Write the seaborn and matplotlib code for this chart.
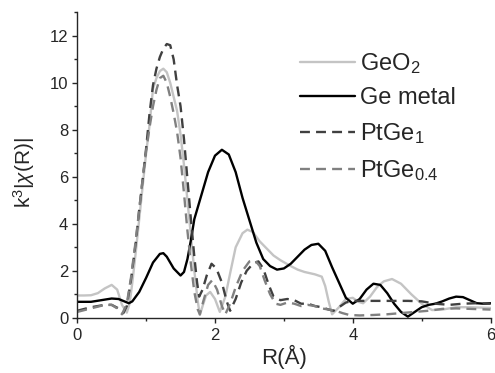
import matplotlib
matplotlib.use("Agg")
import matplotlib.pyplot as plt
from matplotlib.ticker import MultipleLocator
import seaborn as sns

# --- data (R in Angstrom, k3|chi(R)|) ---
r_geo2 = [0, 0.1, 0.2, 0.3, 0.4, 0.5, 0.58, 0.65, 0.72, 0.76, 0.8, 0.85, 0.9, 0.95, 1.0, 1.05,
          1.1, 1.15, 1.2, 1.25, 1.3, 1.35, 1.4, 1.45, 1.5, 1.55, 1.6, 1.65, 1.7, 1.75, 1.78,
          1.82, 1.87, 1.93, 2.0, 2.07, 2.15, 2.22, 2.3, 2.4, 2.47, 2.55, 2.65, 2.75, 2.85, 2.95,
          3.1, 3.2, 3.3, 3.45, 3.55, 3.6, 3.65, 3.7, 3.8, 3.9, 4.0, 4.08, 4.15, 4.25, 4.35,
          4.45, 4.57, 4.7, 4.85, 5.0, 5.15, 5.3, 5.5, 5.7, 6.0]
chi_geo2 = [0.95, 0.95, 0.96, 1.05, 1.25, 1.4, 1.2, 0.55, 0.22, 0.6, 1.5, 2.8, 4.2, 5.6, 7.0, 8.2,
            9.75, 10.2, 10.5, 10.6, 10.45, 10.0, 9.4, 8.8, 7.8, 6.5, 5.0, 3.5, 2.0, 0.7, 0.12,
            0.5, 0.95, 1.1, 0.8, 0.25, 0.9, 1.9, 3.0, 3.6, 3.75, 3.65, 3.25, 2.95, 2.65, 2.45,
            2.2, 2.05, 1.95, 1.85, 1.75, 1.35, 0.7, 0.15, 0.45, 0.8, 0.85, 0.68, 0.62, 0.9, 1.3,
            1.55, 1.65, 1.45, 1.0, 0.6, 0.33, 0.35, 0.45, 0.45, 0.42]

r_ge = [0, 0.2, 0.35, 0.5, 0.6, 0.7, 0.75, 0.8, 0.9, 1.0, 1.1, 1.2, 1.25, 1.3, 1.4, 1.5,
        1.55, 1.6, 1.65, 1.7, 1.8, 1.9, 2.0, 2.1, 2.2, 2.3, 2.4, 2.5, 2.6, 2.7, 2.8, 2.9, 3.0,
        3.1, 3.2, 3.3, 3.4, 3.5, 3.6, 3.7, 3.8, 3.9, 4.0, 4.1, 4.2, 4.3, 4.4, 4.5, 4.6, 4.7,
        4.8, 4.9, 5.0, 5.1, 5.2, 5.3, 5.4, 5.5, 5.6, 5.7, 5.8, 5.9, 6.0]
chi_ge = [0.68, 0.68, 0.75, 0.82, 0.8, 0.68, 0.62, 0.7, 1.1, 1.7, 2.35, 2.72, 2.75, 2.6, 2.1, 1.8,
          1.95, 2.5, 3.3, 4.2, 5.2, 6.2, 6.9, 7.15, 6.95, 6.2, 5.1, 4.15, 3.2, 2.5, 2.2, 2.05, 2.1,
          2.3, 2.6, 2.9, 3.1, 3.15, 2.85, 2.15, 1.5, 0.85, 0.6, 0.8, 1.2, 1.45, 1.4, 1.05, 0.6, 0.25,
          0.05, 0.25, 0.45, 0.55, 0.6, 0.7, 0.82, 0.9, 0.88, 0.75, 0.62, 0.6, 0.62]

r_ptge1 = [0, 0.2, 0.4, 0.5, 0.6, 0.67, 0.72, 0.78, 0.85, 0.9, 0.95, 1.0, 1.05, 1.1, 1.15, 1.2,
           1.25, 1.3, 1.35, 1.4, 1.45, 1.5, 1.55, 1.6, 1.65, 1.7, 1.74, 1.77, 1.82, 1.88, 1.95,
           2.02, 2.1, 2.17, 2.22, 2.3, 2.38, 2.46, 2.55, 2.63, 2.7, 2.78, 2.85, 2.95, 3.05, 3.15,
           3.25, 3.35, 3.45, 3.55, 3.65, 3.72, 3.8, 3.9, 4.0, 4.2, 4.5, 4.8, 5.0, 5.2, 5.4, 5.6,
           5.8, 6.0]
chi_ptge1 = [0.3, 0.45, 0.55, 0.55, 0.4, 0.2, 0.5, 1.6, 3.2, 4.6, 5.9, 7.2, 8.7, 9.9, 10.6, 11.1,
             11.45, 11.65, 11.6, 11.0, 9.9, 9.0, 7.6, 5.9, 4.2, 2.6, 1.5, 0.9, 1.2, 1.8, 2.3,
             2.1, 1.5, 0.7, 0.3, 0.8, 1.5, 2.0, 2.3, 2.4, 2.1, 1.4, 0.9, 0.75, 0.8, 0.75,
             0.6, 0.6, 0.5, 0.45, 0.35, 0.3, 0.45, 0.65, 0.72, 0.72, 0.72, 0.72, 0.7, 0.6, 0.55, 0.6,
             0.62, 0.6]

r_ptge04 = [0, 0.2, 0.4, 0.5, 0.58, 0.65, 0.72, 0.78, 0.85, 0.9, 0.95, 1.0, 1.05, 1.1, 1.15, 1.2,
            1.25, 1.3, 1.35, 1.4, 1.45, 1.5, 1.55, 1.6, 1.65, 1.7, 1.75, 1.78, 1.83, 1.9, 1.96,
            2.03, 2.1, 2.15, 2.22, 2.3, 2.4, 2.5, 2.58, 2.65, 2.72, 2.8, 2.88, 2.95, 3.05, 3.15,
            3.25, 3.35, 3.45, 3.55, 3.65, 3.75, 3.85, 3.95, 4.1, 4.3, 4.5, 4.7, 4.9, 5.1, 5.3,
            5.5, 5.7, 6.0]
chi_ptge04 = [0.25, 0.4, 0.55, 0.55, 0.4, 0.15, 0.6, 1.7, 3.3, 4.6, 5.9, 7.1, 8.1, 9.0, 9.7, 10.2,
              10.3, 10.0, 9.4, 8.7, 7.9, 6.8, 5.3, 3.7, 2.3, 1.1, 0.35, 0.15, 0.7, 1.4, 1.6,
              1.2, 0.5, 0.15, 0.6, 1.3, 2.0, 2.4, 2.45, 2.2, 1.6, 1.0, 0.6, 0.55, 0.65, 0.6,
              0.5, 0.55, 0.5, 0.4, 0.35, 0.3, 0.2, 0.12, 0.1, 0.12, 0.15, 0.2, 0.25, 0.3, 0.38,
              0.4, 0.38, 0.35]

sns.set_style("ticks")
plt.rcParams.update({
    "font.family": ["Liberation Sans", "DejaVu Sans"],
    "mathtext.fontset": "custom",
    "mathtext.rm": "Liberation Sans",
    "mathtext.it": "Liberation Sans:italic",
    "mathtext.bf": "Liberation Sans:bold",
    "axes.linewidth": 1.0,
    "xtick.direction": "out",
    "ytick.direction": "out",
})

fig = plt.figure(figsize=(4.95, 3.73), dpi=100)
ax = fig.add_axes([0.156, 0.148, 0.835, 0.819])

lw = 1.7
dash = (0, (4.2, 2.6))
sns.lineplot(x=r_geo2, y=chi_geo2, ax=ax, sort=False, estimator=None,
             color="#c4c4c4", linewidth=lw, label="GeO$_\\mathregular{2}$")
sns.lineplot(x=r_ge, y=chi_ge, ax=ax, sort=False, estimator=None,
             color="black", linewidth=lw, label="Ge metal")
sns.lineplot(x=r_ptge1, y=chi_ptge1, ax=ax, sort=False, estimator=None,
             color="#404040", linewidth=lw, linestyle=dash, label="PtGe$_\\mathregular{1}$")
sns.lineplot(x=r_ptge04, y=chi_ptge04, ax=ax, sort=False, estimator=None,
             color="#808080", linewidth=lw, linestyle=dash, label="PtGe$_\\mathregular{0.4}$")

ax.set_xlim(0, 6)
ax.set_ylim(0, 13)
ax.xaxis.set_major_locator(MultipleLocator(2))
ax.xaxis.set_minor_locator(MultipleLocator(1))
ax.yaxis.set_major_locator(MultipleLocator(2))
ax.yaxis.set_minor_locator(MultipleLocator(1))
ax.tick_params(which="major", length=3.5, width=1.0, labelsize=12, pad=3)
ax.tick_params(axis="x", which="major", pad=4)
ax.tick_params(which="minor", length=2, width=1.0)

sns.despine(ax=ax, top=True, right=True)

ax.set_xlabel("R(Å)", fontsize=16)
ax.set_ylabel("k$^\\mathregular{3}$|$\\chi$(R)|", fontsize=15)
ax.xaxis.set_label_coords(0.5, -0.09)
ax.yaxis.set_label_coords(-0.098, 0.474)

leg = ax.legend(loc="upper left", bbox_to_anchor=(0.515, 0.905), frameon=False,
                fontsize=17, handlelength=2.35, handletextpad=0.22, labelspacing=0.5,
                borderaxespad=0.0)
for h in leg.get_lines():
    h.set_linewidth(lw)

fig.savefig("out.png", dpi=100)
